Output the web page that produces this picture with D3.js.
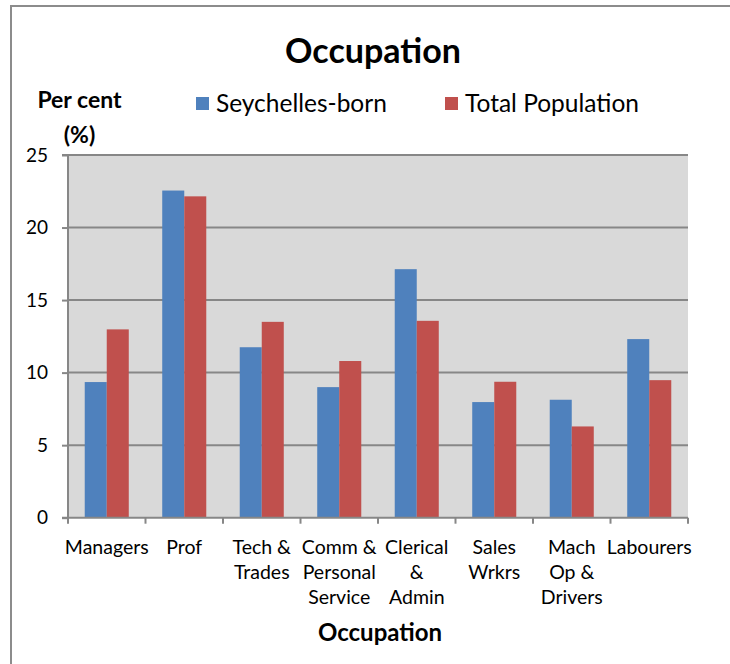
<!DOCTYPE html>
<html><head><meta charset="utf-8">
<script src="https://cdn.jsdelivr.net/npm/d3@7"></script>
<style>html,body{margin:0;padding:0;background:#fff;}svg{display:block;}</style>
</head><body>
<svg id="chart" width="730" height="664"></svg>
<script>
const categories = ["Managers","Prof","Tech & Trades","Comm & Personal Service","Clerical & Admin","Sales Wrkrs","Mach Op & Drivers","Labourers"];
const categoryLines = [["Managers"],["Prof"],["Tech &","Trades"],["Comm &","Personal","Service"],["Clerical","&","Admin"],["Sales","Wrkrs"],["Mach","Op &","Drivers"],["Labourers"]];
const seriesNames = ["Seychelles-born","Total Population"];
const seychellesBorn = [9.35, 22.55, 11.75, 9.0, 17.13, 7.97, 8.13, 12.31];
const totalPopulation = [12.98, 22.15, 13.5, 10.8, 13.57, 9.37, 6.29, 9.48];
const yTicks = [0,5,10,15,20,25];
const colors = ["#4f81bd","#c0504d"];

const FONT = "Lato, 'Open Sans', sans-serif";
const svg = d3.select("#chart");
const plot = {left:68, right:688, top:155, bottom:517.7};

// outer frame
svg.append("path").attr("d","M11,664 V6 H730").attr("fill","none").attr("stroke","#8c8c8c").attr("stroke-width",2);

const x = d3.scaleBand().domain(categories).range([plot.left, plot.right]).padding(0);
const xs = d3.scaleBand().domain(seriesNames).range([0, x.bandwidth()]).paddingInner(0).paddingOuter(0.76);
const y = d3.scaleLinear().domain([0,25]).range([plot.bottom, plot.top]);

svg.append("rect").attr("x",plot.left).attr("y",plot.top).attr("width",plot.right-plot.left).attr("height",plot.bottom-plot.top).attr("fill","#d9d9d9");

// gridlines
svg.append("g").selectAll("line").data(yTicks.filter(d=>d>0)).join("line")
  .attr("x1",plot.left).attr("x2",plot.right).attr("y1",d=>y(d)).attr("y2",d=>y(d))
  .attr("stroke","#878787").attr("stroke-width",2);

// bars
const data = categories.map((c,i)=>({cat:c, vals:[seychellesBorn[i], totalPopulation[i]]}));
const grp = svg.append("g").selectAll("g").data(data).join("g").attr("transform",d=>`translate(${x(d.cat)},0)`);
grp.selectAll("rect").data(d=>d.vals.map((v,j)=>({s:seriesNames[j], v, j}))).join("rect")
  .attr("x",d=>xs(d.s)).attr("width",xs.bandwidth())
  .attr("y",d=>y(d.v)).attr("height",d=>y(0)-y(d.v))
  .attr("fill",d=>colors[d.j]);

// y axis
const yAxis = svg.append("g").attr("transform",`translate(${plot.left},0)`)
  .call(d3.axisLeft(y).tickValues(yTicks).tickSize(6).tickPadding(6));
yAxis.select(".domain").attr("stroke","#878787").attr("stroke-width",2).attr("d",`M-6,${y(25)}H0V${y(0)}H-6`);
yAxis.selectAll(".tick line").attr("stroke","#878787").attr("stroke-width",2);
yAxis.selectAll(".tick text").attr("font-family",FONT).attr("font-size",19).attr("fill","#000").attr("dx",-8);

// x axis
const xAxis = svg.append("g").attr("transform",`translate(0,${plot.bottom})`);
xAxis.append("line").attr("x1",plot.left).attr("x2",plot.right).attr("stroke","#878787").attr("stroke-width",2);
const bounds = categories.map(c=>x(c)).concat([plot.right]);
xAxis.selectAll("line.tk").data(bounds).join("line").attr("class","tk")
  .attr("x1",d=>d).attr("x2",d=>d).attr("y1",0).attr("y2",6).attr("stroke","#878787").attr("stroke-width",2);
const lab = xAxis.selectAll("text.cl").data(categories).join("text").attr("class","cl")
  .attr("text-anchor","middle").attr("font-family",FONT).attr("font-size",19.5).attr("fill","#000")
  .attr("transform",d=>`translate(${x(d)+x.bandwidth()/2},0)`);
lab.selectAll("tspan").data((d,i)=>categoryLines[i]).join("tspan")
  .attr("x",0).attr("y",(d,k)=>36+k*25).text(d=>d);

// titles
svg.append("text").attr("x",373).attr("y",63).attr("text-anchor","middle")
  .attr("font-family",FONT).attr("font-weight","bold").attr("font-size",34).text("Occupation");
svg.append("text").attr("x",380).attr("y",641).attr("text-anchor","middle")
  .attr("font-family",FONT).attr("font-weight","bold").attr("font-size",24).text("Occupation");
svg.append("text").attr("x",79.5).attr("y",108).attr("text-anchor","middle")
  .attr("font-family",FONT).attr("font-weight","bold").attr("font-size",23).text("Per cent");
svg.append("text").attr("x",79.5).attr("y",143).attr("text-anchor","middle")
  .attr("font-family",FONT).attr("font-weight","bold").attr("font-size",23).text("(%)");

// legend
const legendX = [196, 445];
const lg = svg.append("g").selectAll("g").data(seriesNames).join("g")
  .attr("transform",(d,i)=>`translate(${legendX[i]},97)`);
lg.append("rect").attr("width",13).attr("height",13).attr("fill",(d,i)=>colors[i]);
lg.append("text").attr("x",20).attr("y",15).attr("font-family",FONT).attr("font-size",24.5).attr("fill","#000").text(d=>d);
</script>
</body></html>
